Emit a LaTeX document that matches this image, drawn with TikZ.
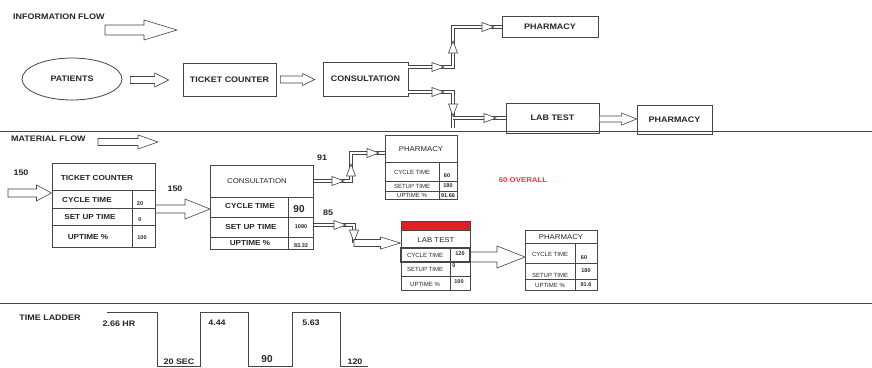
\documentclass[tikz,border=0pt]{standalone}
\usepackage{fontspec}
\setmainfont{Liberation Sans}
\newfontfamily\widef[FakeStretch=1.12]{Liberation Sans}
\usetikzlibrary{calc,shapes.geometric}
\definecolor{ln}{RGB}{70,70,70}
\definecolor{redt}{RGB}{228,60,80}
\definecolor{redbar}{RGB}{225,30,40}
\newcommand\blockarrow[5]{%
 \draw[barr] let \p1=#1, \p2=#2 in
  (\x1,\y1+#3) -- (\x2-#5,\y1+#3) -- (\x2-#5,\y1+#4) -- (\x2,\y1) -- (\x2-#5,\y1-#4) -- (\x2-#5,\y1-#3) -- (\x1,\y1-#3) -- cycle;}
\begin{document}
\begin{tikzpicture}[x=1pt,y=-1pt,
  lbl/.style={font=\widef\bfseries\fontsize{8}{9}\selectfont, inner sep=0pt, text=black!85},
  tlbl/.style={font=\widef\bfseries\fontsize{7.3}{8}\selectfont, inner sep=0pt, text=black!85},
  reg/.style={font=\widef\fontsize{7}{8}\selectfont, inner sep=0pt, text=black!85},
  sml/.style={font=\fontsize{6}{7}\selectfont, inner sep=0pt, text=black!85},
  tiny/.style={font=\bfseries\fontsize{5.5}{6}\selectfont, inner sep=0pt, text=black!85},
  box/.style={draw=ln, line width=0.8pt, inner sep=0pt},
  tbl/.style={draw=ln, line width=1pt, inner sep=0pt},
  rl/.style={draw=ln, line width=0.8pt},
  barr/.style={draw=ln, line width=0.6pt, fill=white},
  dl/.style={draw=white, line width=2.8pt, line join=miter, preaction={draw=ln, line width=4.4pt, line join=miter}},
  mhead/.pic={\draw[ln, fill=white, line width=0.6pt] (-8,-4.5) -- (4,0) -- (-8,4.5) -- cycle;},
]
\useasboundingbox[fill=white] (0,0) rectangle (872,367);

% ---------- information flow ----------
\node[lbl, anchor=west] (infot) at (13,17) {INFORMATION FLOW};
\coordinate (ia1) at (105,30); \coordinate (ia2) at (177,30);
\blockarrow{(ia1)}{(ia2)}{5pt}{10pt}{33pt}

\node[box, ellipse, lbl, minimum width=100pt, minimum height=42pt] (pat) at (72,79) {PATIENTS};
\node[box, lbl, minimum width=93pt, minimum height=33pt] (tc) at (229.5,79.5) {TICKET COUNTER};
\node[box, lbl, minimum width=85pt, minimum height=34pt] (cons) at (365.5,79) {CONSULTATION};
\node[box, lbl, minimum width=96pt, minimum height=21pt] (ph1) at (550,27) {PHARMACY};
\node[box, lbl, minimum width=93pt, minimum height=30pt] (lab) at (552.5,118) {LAB TEST};
\node[box, lbl, minimum width=75pt, minimum height=29pt] (ph2) at (674.5,119.5) {PHARMACY};

\blockarrow{($(pat.east)+(8,1)$)}{($(tc.west)+(-14,0)$)}{3.5pt}{7pt}{14pt}
\blockarrow{($(tc.east)+(4,0)$)}{($(cons.west)+(-8,0)$)}{3.5pt}{6pt}{12pt}

\coordinate (u0) at (cons.east |- 0,67);
\coordinate (u1) at (453,67);
\coordinate (u2) at (453,27);
\path[dl] (u0) -- (u1) -- (u2) -- (ph1.west);
\pic at (440,67) {mhead};
\pic[rotate=90] at (453,45) {mhead};
\pic at (490,27) {mhead};

\coordinate (d0) at (cons.east |- 0,92);
\coordinate (d1) at (453,92);
\coordinate (d2) at (453,118);
\path[dl] (d0) -- (d1) -- (453,128);
\path[dl] (d2) -- (lab.west);
\pic at (440,92) {mhead};
\pic[rotate=-90] at (453,112) {mhead};
\pic at (492,118) {mhead};

\blockarrow{($(lab.east)+(0,1)$)}{($(ph2.west)+(0,0)$)}{3pt}{6pt}{15pt}

\draw[rl] (0,131) -- (872,131);

% ---------- material flow ----------
\node[lbl, anchor=west] (mft) at (11,139) {MATERIAL FLOW};
\blockarrow{(98,142)}{(158,142)}{3.5pt}{7pt}{20pt}
\node[lbl] (n150a) at (21,173) {150};

% ticket counter table
\node[tbl, minimum width=103pt, minimum height=84pt] (mtc) at (103.5,205) {};
\draw[rl] (52,190) -- (155,190) (52,208) -- (155,208) (52,225) -- (155,225) (132,190) -- (132,247);
\node[tlbl] (mtct) at (97,178) {TICKET COUNTER};
\node[tlbl] (mtc1) at (87,200) {CYCLE TIME};
\node[tlbl] (mtc2) at (90,217) {SET UP TIME};
\node[tlbl] (mtc3) at (88,237) {UPTIME \%};
\node[tiny] (mtcv1) at (140,204) {20};
\node[tiny] (mtcv2) at (140,220) {0};
\node[tiny] (mtcv3) at (142,238) {100};
\blockarrow{(8,193)}{(mtc.west |- 0,193)}{4pt}{8pt}{15pt}

\node[lbl] (n150b) at (175,189) {150};
\blockarrow{(mtc.east |- 0,209)}{(210,209)}{4pt}{10pt}{25pt}

% consultation table
\node[tbl, minimum width=103pt, minimum height=84pt] (mcons) at (261.5,207) {};
\draw[rl] (210,197) -- (313,197) (210,217) -- (313,217) (210,237) -- (313,237) (288,197) -- (288,249);
\node[reg] (mconst) at (257,181) {CONSULTATION};
\node[tlbl] (mcons1) at (250,206) {CYCLE TIME};
\node[tlbl] (mcons2) at (251,227) {SET UP TIME};
\node[tlbl] (mcons3) at (250,243) {UPTIME \%};
\node[font=\bfseries\fontsize{10}{11}\selectfont, inner sep=0pt, text=black!85] (mconsv1) at (299,209) {90};
\node[tiny] (mconsv2) at (301,227) {1080};
\node[tiny] (mconsv3) at (301,246) {83.33};

% upper branch to pharmacy
\node[lbl] (n91) at (322,158) {91};
\coordinate (p0) at (mcons.east |- 0,181);
\coordinate (p1) at (351,181);
\coordinate (p2) at (351,153);
\path[dl] (p0) -- (p1) -- (p2) -- (385,153);
\pic at (340,181) {mhead};
\pic[rotate=90] at (351,168) {mhead};
\pic at (375,153) {mhead};

% pharmacy table 1
\node[tbl, minimum width=72pt, minimum height=64pt] (mph1) at (421,167) {};
\draw[rl] (385,162) -- (457,162) (385,181) -- (457,181) (385,191) -- (457,191) (439,162) -- (439,199);
\node[reg] (mph1t) at (421,149) {PHARMACY};
\node[sml] (mph11) at (412,172) {CYCLE TIME};
\node[sml] (mph12) at (412,186) {SETUP TIME};
\node[sml] (mph13) at (412,195.5) {UPTIME \%};
\node[tiny] (mph1v1) at (447,176) {60};
\node[tiny] (mph1v2) at (448,186) {180};
\node[tiny] (mph1v3) at (448,195.5) {91.66};

\node[text=redt, font=\widef\bfseries\fontsize{7}{8}\selectfont, inner sep=0pt] (ovr) at (523,180) {60 OVERALL};

% lower branch to lab test
\node[lbl] (n85) at (328,213) {85};
\coordinate (q0) at (mcons.east |- 0,225);
\coordinate (q1) at (354,225);
\coordinate (q2) at (354,243);
\path[dl] (q0) -- (q1) -- (q2);
\pic at (342,225) {mhead};
\pic[rotate=-90] at (354,238) {mhead};

% lab test table
\fill[redbar] (401,221) rectangle (470,230);
\node[tbl, minimum width=69pt, minimum height=69pt] (mlab) at (435.5,255.5) {};
\draw[rl] (401,230) -- (470,230) (401,248) -- (470,248) (401,262) -- (470,262) (401,276) -- (470,276) (450,248) -- (450,290);
\draw[ln, line width=1.3pt] (401,248) rectangle (470,262);
\node[reg] (mlabt) at (436,240) {LAB TEST};
\node[sml] (mlab1) at (425,255) {CYCLE TIME};
\node[sml] (mlab2) at (425,269) {SETUP TIME};
\node[sml] (mlab3) at (425,284) {UPTIME \%};
\node[tiny] (mlabv1) at (460,254) {120};
\node[tiny] (mlabv2) at (454,266) {0};
\node[tiny] (mlabv3) at (459,282) {100};
\blockarrow{(q2)}{(mlab.west |- 0,243)}{3.5pt}{6pt}{20pt}

\blockarrow{(mlab.east |- 0,257)}{(525,257)}{5pt}{11pt}{28pt}

% pharmacy table 2
\node[tbl, minimum width=72pt, minimum height=60pt] (mph2) at (561,260) {};
\draw[rl] (525,243) -- (597,243) (525,263) -- (597,263) (525,279) -- (597,279) (575,243) -- (575,290);
\node[reg] (mph2t) at (561,237) {PHARMACY};
\node[sml] (mph21) at (550,254) {CYCLE TIME};
\node[sml] (mph22) at (550,275) {SETUP TIME};
\node[sml] (mph23) at (550,285) {UPTIME \%};
\node[tiny] (mph2v1) at (584,258) {60};
\node[tiny] (mph2v2) at (586,271) {180};
\node[tiny] (mph2v3) at (586,285) {91.6};

\draw[rl] (0,303) -- (872,303);

% ---------- time ladder ----------
\node[lbl] (tlt) at (50,318) {TIME LADDER};
\draw[ln, line width=0.9pt] (107,312) -- (157,312) -- (157,366) -- (200,366) -- (200,312) -- (248,312) -- (248,366) -- (292,366) -- (292,312) -- (340,312) -- (340,366) -- (368,366);
\node[lbl] (t1) at (119,324) {2.66 HR};
\node[lbl] (t2) at (179,362) {20 SEC};
\node[lbl] (t3) at (217,323) {4.44};
\node[font=\bfseries\fontsize{10}{11}\selectfont, inner sep=0pt, text=black!85] (t4) at (267,359) {90};
\node[lbl] (t5) at (311,323) {5.63};
\node[lbl] (t6) at (355,362) {120};
\end{tikzpicture}
\end{document}
